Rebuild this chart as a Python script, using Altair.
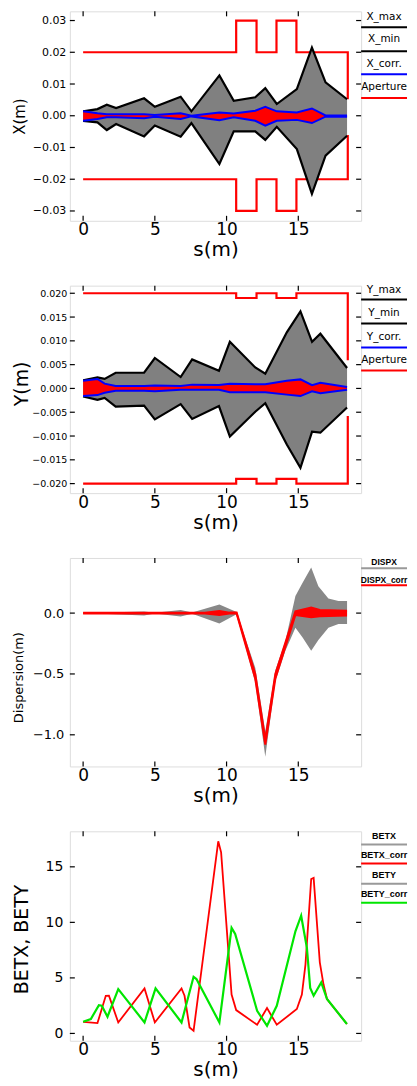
import altair as alt
import pandas as pd

# ---------------- data ----------------
s_ticks = [0, 5, 10, 15]

# Panel 1 : horizontal orbit X
s_x = [0.0, 1.0, 1.65, 2.3, 4.25, 5.0, 6.8, 7.55, 9.5, 10.5, 12.0, 12.7, 13.5, 14.9, 15.95, 16.9, 18.4]
x_max = [0.0014, 0.0021, 0.0035, 0.0024, 0.0055, 0.0028, 0.0060, 0.0014, 0.0127, 0.0047, 0.0058, 0.0087, 0.0037, 0.0084, 0.0215, 0.0105, 0.0052]
x_min = [-0.0016, -0.0021, -0.0045, -0.0026, -0.0065, -0.0031, -0.0066, -0.0023, -0.0152, -0.0049, -0.0049, -0.0076, -0.0035, -0.0105, -0.0246, -0.0126, -0.0063]
xc_max = [0.0014, 0.0008, 0.0005, 0.0005, 0.0005, 0.0002, 0.0008, 0.0000, 0.0010, 0.0007, 0.0016, 0.0028, 0.0014, 0.0010, 0.0023, 0.0001, 0.0001]
xc_min = [-0.0016, -0.0010, -0.0005, -0.0005, -0.0008, -0.0003, -0.0010, -0.0002, -0.0014, -0.0005, -0.0016, -0.0031, -0.0016, -0.0013, -0.0023, -0.0003, -0.0003]
ap_s = [0.0, 10.67, 10.67, 12.09, 12.09, 13.48, 13.48, 14.87, 14.87, 18.45, 18.45]
apx_up = [0.02, 0.02, 0.03, 0.03, 0.02, 0.02, 0.03, 0.03, 0.02, 0.02, 0.0052]
apx_lo = [-0.02, -0.02, -0.03, -0.03, -0.02, -0.02, -0.03, -0.03, -0.02, -0.02, -0.0061]
x_yticks = [0.03, 0.02, 0.01, 0.0, -0.01, -0.02, -0.03]

# Panel 2 : vertical orbit Y
s_y = [0.0, 1.0, 1.5, 2.27, 4.25, 5.0, 6.8, 7.6, 9.47, 10.23, 12.0, 12.7, 14.2, 15.15, 15.96, 16.54, 18.4]
y_max = [0.0017, 0.0023, 0.0020, 0.0033, 0.0033, 0.0064, 0.0024, 0.0061, 0.0037, 0.0098, 0.0044, 0.0031, 0.0118, 0.0162, 0.0098, 0.0115, 0.0043]
y_min = [-0.0017, -0.0024, -0.0020, -0.0038, -0.0036, -0.0065, -0.0033, -0.0064, -0.0037, -0.0101, -0.0049, -0.0031, -0.0118, -0.0167, -0.0091, -0.0093, -0.0040]
yc_max = [0.0016, 0.0020, 0.0010, 0.0005, 0.0005, 0.0006, 0.0005, 0.0008, 0.0007, 0.0010, 0.0009, 0.0009, 0.0016, 0.0019, 0.0007, 0.0012, 0.0003]
yc_min = [-0.0016, -0.0014, -0.0009, -0.0005, -0.0005, -0.0006, -0.0003, -0.0003, -0.0003, -0.0008, -0.0008, -0.0008, -0.0013, -0.0016, -0.0006, -0.0010, -0.0003]
apy_up = [0.02, 0.02, 0.019, 0.019, 0.02, 0.02, 0.019, 0.019, 0.02, 0.02, 0.0059]
apy_lo = [-0.02, -0.02, -0.019, -0.019, -0.02, -0.02, -0.019, -0.019, -0.02, -0.02, -0.0058]
y_yticks = [0.020, 0.015, 0.010, 0.005, 0.0, -0.005, -0.010, -0.015, -0.020]

# Panel 3 : dispersion
s_d = [0.0, 4.25, 5.0, 6.8, 7.6, 9.5, 10.7, 12.0, 12.7, 13.4, 14.1, 14.8, 15.3, 15.9, 16.4, 17.1, 17.8, 18.4]
d_max = [0.0, 0.014, 0.003, 0.025, 0.005, 0.07, 0.01, -0.45, -0.97, -0.47, -0.23, 0.14, 0.25, 0.375, 0.22, 0.12, 0.10, 0.10]
d_min = [0.0, -0.02, -0.003, -0.027, -0.005, -0.085, -0.01, -0.57, -1.18, -0.56, -0.31, -0.12, -0.20, -0.31, -0.22, -0.12, -0.09, -0.09]
s_dc = [0.0, 8.5, 9.5, 10.2, 10.7, 12.0, 12.7, 13.4, 14.8, 15.9, 16.5, 18.4]
dc_max = [0.003, 0.003, 0.018, 0.004, 0.004, -0.50, -1.04, -0.50, 0.015, 0.045, 0.025, 0.02]
dc_min = [-0.003, -0.003, -0.016, -0.004, -0.004, -0.54, -1.08, -0.54, -0.015, -0.035, -0.025, -0.02]
d_yticks = [0.0, -0.5, -1.0]

# Panel 4 : beta functions
s_bx = [0.0, 1.0, 1.58, 1.8, 2.45, 4.28, 5.0, 6.86, 7.07, 7.42, 7.7, 9.42, 9.62, 10.35, 10.67, 12.13, 12.82, 13.5, 14.9, 15.25, 15.5, 15.9, 16.07, 16.5, 16.76, 17.0, 18.39]
betx = [1.05, 0.93, 3.39, 3.4, 0.99, 4.05, 0.99, 4.05, 3.39, 0.54, 0.24, 17.3, 16.3, 3.5, 2.1, 0.78, 2.28, 0.78, 2.2, 3.5, 6.2, 13.9, 14.0, 6.4, 4.4, 3.1, 0.85]
s_by = [0.0, 0.54, 1.1, 1.3, 1.7, 2.45, 4.28, 5.05, 6.86, 7.7, 7.9, 9.5, 10.35, 10.6, 12.13, 12.82, 13.5, 14.8, 15.2, 15.6, 15.83, 16.07, 16.6, 17.0, 18.39]
bety = [1.05, 1.3, 2.55, 2.5, 1.5, 3.99, 0.99, 4.05, 0.99, 5.1, 4.9, 0.99, 9.5, 8.95, 2.04, 0.69, 2.49, 9.2, 10.6, 7.7, 4.1, 3.4, 4.6, 3.1, 0.85]
b_yticks = [0, 5, 10, 15]

# legends
leg1_labels = ["X_max", "X_min", "X_corr.", "Aperture"]
leg2_labels = ["Y_max", "Y_min", "Y_corr.", "Aperture"]
leg3_labels = ["DISPX", "DISPX_corr"]
leg4_labels = ["BETX", "BETX_corr", "BETY", "BETY_corr"]

# ---------------- styling ----------------
FONT = "DejaVu Sans"
W = 292
LEGW = 46
XS = alt.Scale(domain=[-0.925, 19.38], nice=False, zero=False)
RED, BLUE, GREEN, GRAY = "#ff0000", "#0000ff", "#00e600", "#808080"


def x_axis():
    return alt.Axis(values=s_ticks, title="s(m)", ticks=False, domain=False, grid=False,
                    labelFont=FONT, labelFontSize=17, labelPadding=1, labelColor="black",
                    labelFlush=False, labelOverlap=False,
                    titleFont=FONT, titleFontSize=20, titleFontWeight="normal", titleColor="black",
                    titleY=35, titleBaseline="alphabetic")


def y_axis(title, values, fmt, lsize, lpad, tsize, ty):
    return alt.Axis(values=values, format=fmt, title=title, ticks=False, domain=False, grid=False,
                    labelFont=FONT, labelFontSize=lsize, labelPadding=lpad, labelColor="black",
                    labelFlush=False, labelOverlap=False,
                    titleFont=FONT, titleFontSize=tsize, titleFontWeight="normal", titleColor="black",
                    titleAngle=270, titleX=-57, titleY=ty, titleAlign="center", titleBaseline="top")


def tick_layers(yvals, XA, YA, ys, H, L=5):
    dx = pd.DataFrame({"v": s_ticks})
    dy = pd.DataFrame({"v": yvals})
    st = dict(color="black", strokeWidth=1.2)
    xe = alt.X("v:Q", scale=XS, axis=XA)
    ye = alt.Y("v:Q", scale=ys, axis=YA)
    return [
        alt.Chart(dx).mark_rule(**st).encode(x=xe, y=alt.value(0), y2=alt.value(L)),
        alt.Chart(dx).mark_rule(**st).encode(x=xe, y=alt.value(H), y2=alt.value(H - L)),
        alt.Chart(dy).mark_rule(**st).encode(y=ye, x=alt.value(0), x2=alt.value(L)),
        alt.Chart(dy).mark_rule(**st).encode(y=ye, x=alt.value(W), x2=alt.value(W - L)),
    ]


def legend_layers(labels, colors, text_y, line_y, size, weight, font):
    out = []
    for lab, col, ty, ly in zip(labels, colors, text_y, line_y):
        d = pd.DataFrame({"label": [lab]})
        out.append(alt.Chart(d).mark_text(font=font, fontSize=size, fontWeight=weight, color="black",
                                          align="center", baseline="middle")
                   .encode(x=alt.value(W + LEGW / 2), y=alt.value(ty), text="label:N"))
        out.append(alt.Chart(d).mark_rule(color=col, strokeWidth=2)
                   .encode(x=alt.value(W), x2=alt.value(W + LEGW), y=alt.value(ly)))
    return out


def aperture_df(up, lo):
    n = len(ap_s)
    return pd.DataFrame({"s": ap_s + ap_s, "y": up + lo,
                         "side": ["up"] * n + ["lo"] * n, "i": list(range(n)) * 2})


def orbit_panel(s, hi, lo, chi, clo, ap_up, ap_lo, ydom, H, yticks, fmt, title, lsize, lpad, tsize, ty,
                labels, text_y, line_y):
    YS = alt.Scale(domain=ydom, nice=False, zero=False)
    XA = x_axis()
    YA = y_axis(title, yticks, fmt, lsize, lpad, tsize, ty)
    env = pd.DataFrame({"s": s, "hi": hi, "lo": lo})
    cor = pd.DataFrame({"s": s, "hi": chi, "lo": clo})
    ap = aperture_df(ap_up, ap_lo)

    def xe():
        return alt.X("s:Q", scale=XS, axis=XA)

    def ye(f):
        return alt.Y(f"{f}:Q", scale=YS, axis=YA)

    layers = [
        alt.Chart(ap).mark_line(color=RED, strokeWidth=2.2).encode(
            x=xe(), y=ye("y"), detail="side:N", order="i:Q"),
        alt.Chart(env).mark_area(color=GRAY, opacity=1).encode(x=xe(), y=ye("hi"), y2="lo:Q"),
        alt.Chart(env).mark_line(color="black", strokeWidth=2.2).encode(x=xe(), y=ye("hi")),
        alt.Chart(env).mark_line(color="black", strokeWidth=2.2).encode(x=xe(), y=ye("lo")),
        alt.Chart(cor).mark_area(color=RED, opacity=1).encode(x=xe(), y=ye("hi"), y2="lo:Q"),
        alt.Chart(cor).mark_line(color=BLUE, strokeWidth=2).encode(x=xe(), y=ye("hi")),
        alt.Chart(cor).mark_line(color=BLUE, strokeWidth=2).encode(x=xe(), y=ye("lo")),
    ]
    layers += tick_layers(yticks, XA, YA, YS, H)
    layers += legend_layers(labels, ["black", "black", BLUE, RED], text_y, line_y, 10.5, "normal", FONT)
    return alt.layer(*layers).properties(width=W, height=H)


H1, H2, H3, H4 = 210, 208, 209, 210

p1 = orbit_panel(s_x, x_max, x_min, xc_max, xc_min, apx_up, apx_lo, [-0.0331, 0.0329], H1,
                 x_yticks, ".2f", "X(m)", 11, 4, 15, H1 / 2, leg1_labels,
                 [6, 28, 53, 76], [16, 40, 63, 87])
p2 = orbit_panel(s_y, y_max, y_min, yc_max, yc_min, apy_up, apy_lo, [-0.022, 0.0216], H2,
                 y_yticks, ".3f", "Y(m)", 9.5, 3, 19, H2 / 2 - 6, leg2_labels,
                 [4, 27.5, 51.5, 75], [14, 38, 62, 85])

# panel 3
YS3 = alt.Scale(domain=[-1.26, 0.453], nice=False, zero=False)
XA3 = x_axis()
YA3 = y_axis("Dispersion(m)", d_yticks, ".1f", 13, 6, 13, H3 / 2 + 15)
dd = pd.DataFrame({"s": s_d, "hi": d_max, "lo": d_min})
dc = pd.DataFrame({"s": s_dc, "hi": dc_max, "lo": dc_min})
l3 = [
    alt.Chart(dd).mark_area(color="#888888", opacity=1).encode(
        x=alt.X("s:Q", scale=XS, axis=XA3), y=alt.Y("hi:Q", scale=YS3, axis=YA3), y2="lo:Q"),
    alt.Chart(dc).mark_area(color=RED, opacity=1).encode(
        x=alt.X("s:Q", scale=XS, axis=XA3), y=alt.Y("hi:Q", scale=YS3, axis=YA3), y2="lo:Q"),
    alt.Chart(dc).mark_line(color=RED, strokeWidth=2).encode(
        x=alt.X("s:Q", scale=XS, axis=XA3), y=alt.Y("hi:Q", scale=YS3, axis=YA3)),
    alt.Chart(dc).mark_line(color=RED, strokeWidth=2).encode(
        x=alt.X("s:Q", scale=XS, axis=XA3), y=alt.Y("lo:Q", scale=YS3, axis=YA3)),
]
l3 += tick_layers(d_yticks, XA3, YA3, YS3, H3)
l3 += legend_layers(leg3_labels, ["#999999", RED], [4.5, 22], [10.3, 27.3], 8.5, "bold", "Liberation Sans")
p3 = alt.layer(*l3).properties(width=W, height=H3)

# panel 4
YS4 = alt.Scale(domain=[-0.66, 18.2], nice=False, zero=False)
XA4 = x_axis()
YA4 = y_axis("BETX, BETY", b_yticks, "d", 14, 7, 19, H4 / 2 + 3)
bx = pd.DataFrame({"s": s_bx, "v": betx})
by = pd.DataFrame({"s": s_by, "v": bety})
l4 = [
    alt.Chart(bx).mark_line(color=RED, strokeWidth=1.8).encode(
        x=alt.X("s:Q", scale=XS, axis=XA4), y=alt.Y("v:Q", scale=YS4, axis=YA4)),
    alt.Chart(by).mark_line(color=GREEN, strokeWidth=2.2).encode(
        x=alt.X("s:Q", scale=XS, axis=XA4), y=alt.Y("v:Q", scale=YS4, axis=YA4)),
]
l4 += tick_layers(b_yticks, XA4, YA4, YS4, H4)
l4 += legend_layers(leg4_labels, ["#999999", RED, "#999999", GREEN],
                    [4.5, 24, 43.7, 63], [13.3, 32.3, 52.7, 71.7], 9, "bold", "Liberation Sans")
p4 = alt.layer(*l4).properties(width=W, height=H4)

chart = (alt.vconcat(p1, p2, p3, p4, spacing=23)
         .properties(padding={"left": 4, "top": 0, "right": 0, "bottom": 0})
         .configure_view(stroke="black", strokeWidth=1.5)
         .configure(font=FONT, background="white"))

chart.save("out.html", embed_options={"renderer": "svg", "actions": False})
